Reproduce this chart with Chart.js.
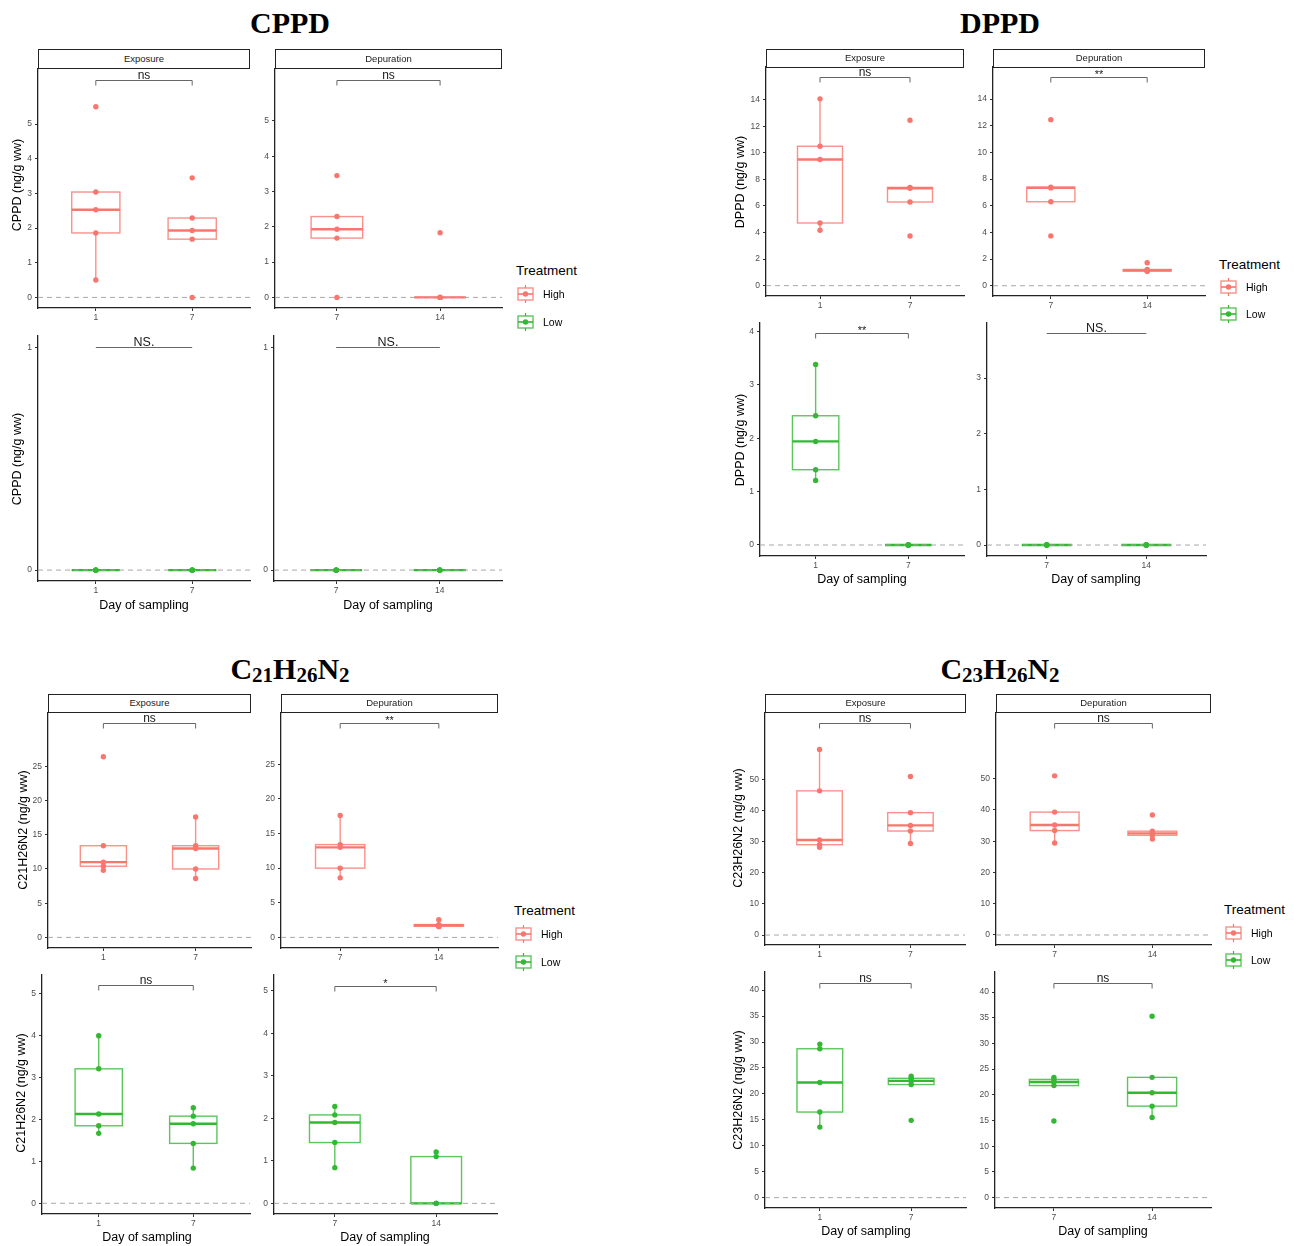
<!DOCTYPE html>
<html>
<head>
<meta charset="utf-8">
<script src="https://cdn.jsdelivr.net/npm/chart.js@4.4.1/dist/chart.umd.min.js"></script>
<style>
  body { margin: 0; background: #fff; width: 1294px; height: 1246px; position: relative; overflow: hidden;
         font-family: "Liberation Sans", Arial, sans-serif; }
  canvas { position: absolute; }
  .title { position: absolute; font-family: "Liberation Serif", "Times New Roman", serif; font-weight: bold;
           font-size: 30px; line-height: 30px; transform: translateX(-50%); white-space: nowrap; color: #000; }
  .title span { font-size: 21px; vertical-align: -3px; }
  .strip { position: absolute; box-sizing: border-box; border: 1.5px solid #222; background: #fff;
           font-size: 9.5px; color: #1a1a1a; text-align: center; z-index: 2; }
  .ytitle { position: absolute; font-size: 12.5px; white-space: nowrap; color: #000;
            transform: translate(-50%, -50%) rotate(-90deg); }
  .xtitle { position: absolute; font-size: 12.5px; white-space: nowrap; color: #000;
            transform: translate(-50%, -50%); }
  .legend { position: absolute; white-space: nowrap; transform: translateY(-50%); }
  .legend.head { font-size: 13.5px; }
  .legend.item { font-size: 10.5px; display: flex; align-items: center; }
  .legend svg { margin-right: 9px; }
</style>
</head>
<body>
<div class="title" style="left:290px;top:8px">CPPD</div>
<div class="title" style="left:1000px;top:8px">DPPD</div>
<div class="title" style="left:290px;top:654px">C<span>21</span>H<span>26</span>N<span>2</span></div>
<div class="title" style="left:1000px;top:654px">C<span>23</span>H<span>26</span>N<span>2</span></div>
<script>
// sampling days per phase
const exposureDays = ['1', '7'];
const depurationDays = ['7', '14'];

// CPPD (ng/g ww), five fish per day
const cppdHighDay1 = [5.5, 3.04, 2.53, 1.86, 0.5];
const cppdHighDay7 = [3.45, 2.29, 1.93, 1.68, 0];
const cppdHighDay14 = [1.83, 0, 0, 0, 0];
const cppdLowDay1 = [0, 0, 0, 0, 0];
const cppdLowDay7 = [0, 0, 0, 0, 0];
const cppdLowDay14 = [0, 0, 0, 0, 0];

// DPPD
const dppdHighDay1 = [14.07, 10.5, 9.5, 4.72, 4.17];
const dppdHighDay7 = [12.46, 7.4, 7.34, 6.3, 3.74];
const dppdHighDay14 = [1.73, 1.22, 1.15, 1.1, 1.08];
const dppdLowDay1 = [3.38, 2.42, 1.94, 1.41, 1.21];
const dppdLowDay7 = [0, 0, 0, 0, 0];
const dppdLowDay14 = [0, 0, 0, 0, 0];

// C21H26N2
const c21HighDay1 = [26.4, 13.4, 11.0, 10.4, 9.8];
const c21HighDay7 = [17.6, 13.4, 13.0, 10.0, 8.6];
const c21HighDay14 = [2.55, 1.85, 1.75, 1.6, 1.55];
const c21LowDay1 = [4.0, 3.21, 2.13, 1.85, 1.67];
const c21LowDay7 = [2.28, 2.08, 1.9, 1.43, 0.84];
const c21LowDay14 = [1.21, 1.1, 0, 0, 0];

// C23H26N2
const c23HighDay1 = [59.6, 46.3, 30.5, 29.0, 28.2];
const c23HighDay7 = [50.9, 39.3, 35.2, 33.4, 29.4];
const c23HighDay14 = [38.4, 33.2, 32.5, 31.9, 30.7];
const c23LowDay1 = [29.6, 28.7, 22.2, 16.5, 13.6];
const c23LowDay7 = [23.4, 23.0, 22.5, 21.8, 14.9];
const c23LowDay14 = [35.3, 23.4, 20.4, 17.8, 15.6];

// y tick labels
const cppdHighTicks = [0, 1, 2, 3, 4, 5];
const cppdLowTicks = [0, 1];
const dppdHighTicks = [0, 2, 4, 6, 8, 10, 12, 14];
const dppdLowExpTicks = [0, 1, 2, 3, 4];
const dppdLowDepTicks = [0, 1, 2, 3];
const c21HighTicks = [0, 5, 10, 15, 20, 25];
const c21LowTicks = [0, 1, 2, 3, 4, 5];
const c23HighTicks = [0, 10, 20, 30, 40, 50];
const c23LowTicks = [0, 5, 10, 15, 20, 25, 30, 35, 40];

// significance labels: high exposure, high depuration, low exposure, low depuration
const cppdSig = ['ns', 'ns', 'NS.', 'NS.'];
const dppdSig = ['ns', '**', '**', 'NS.'];
const c21Sig = ['ns', '**', 'ns', '*'];
const c23Sig = ['ns', 'ns', 'ns', 'ns'];

const HIGH = '#F8766D';
const LOW = '#33B833';

Chart.defaults.font.family = '"Liberation Sans", Arial, sans-serif';

function quantile(s, p) {
  const h = (s.length - 1) * p;
  const lo = Math.floor(h), hi = Math.ceil(h);
  return s[lo] + (h - lo) * (s[hi] - s[lo]);
}

function boxStats(values) {
  const s = [...values].sort((a, b) => a - b);
  const q1 = quantile(s, 0.25), med = quantile(s, 0.5), q3 = quantile(s, 0.75);
  const iqr = q3 - q1;
  const lo = s.find(v => v >= q1 - 1.5 * iqr);
  const hi = [...s].reverse().find(v => v <= q3 + 1.5 * iqr);
  return { q1, med, q3, lo, hi };
}

function fade(hex, a) {
  const n = parseInt(hex.slice(1), 16);
  return `rgba(${n >> 16},${(n >> 8) & 255},${n & 255},${a})`;
}

// boxes, whiskers, medians, zero line and the comparison bracket
function boxLayer(f) {
  return {
    id: 'boxLayer',
    beforeDatasetsDraw(chart) {
      const { ctx, chartArea, scales: { x, y } } = chart;
      ctx.save();
      f.groups.forEach((vals, i) => {
        const st = boxStats(vals);
        const cx = x.getPixelForValue(i + 1);
        const half = x.getPixelForValue(i + 1.25) - cx;
        const y1 = y.getPixelForValue(st.q1), y3 = y.getPixelForValue(st.q3);
        ctx.strokeStyle = fade(f.color, 0.8);
        ctx.lineWidth = 1.4;
        ctx.beginPath();
        ctx.moveTo(cx, y3); ctx.lineTo(cx, y.getPixelForValue(st.hi));
        ctx.moveTo(cx, y1); ctx.lineTo(cx, y.getPixelForValue(st.lo));
        ctx.stroke();
        ctx.fillStyle = '#fff';
        ctx.fillRect(cx - half, y3, 2 * half, y1 - y3);
        ctx.strokeRect(cx - half, y3, 2 * half, y1 - y3);
        ctx.strokeStyle = f.color;
        ctx.lineWidth = 2.4;
        ctx.beginPath();
        const ym = y.getPixelForValue(st.med);
        ctx.moveTo(cx - half, ym); ctx.lineTo(cx + half, ym);
        ctx.stroke();
      });
      const y0 = y.getPixelForValue(0);
      ctx.setLineDash([5, 4]);
      ctx.strokeStyle = '#a8a8a8';
      ctx.lineWidth = 1;
      ctx.beginPath();
      ctx.moveTo(chartArea.left, y0); ctx.lineTo(chartArea.right, y0);
      ctx.stroke();
      ctx.restore();
    },
    afterDraw(chart) {
      const { ctx, scales: { x, y } } = chart;
      const x1 = x.getPixelForValue(1), x2 = x.getPixelForValue(2);
      const yb = Math.round(y.getPixelForValue(f.bracketY)) + 0.5;
      const tips = f.label !== 'NS.';
      ctx.save();
      ctx.strokeStyle = '#666';
      ctx.lineWidth = 1;
      ctx.beginPath();
      if (tips) { ctx.moveTo(x1, yb + 5); ctx.lineTo(x1, yb); ctx.lineTo(x2, yb); ctx.lineTo(x2, yb + 5); }
      else { ctx.moveTo(x1, yb); ctx.lineTo(x2, yb); }
      ctx.stroke();
      ctx.fillStyle = '#1a1a1a';
      ctx.textAlign = 'center';
      ctx.textBaseline = 'alphabetic';
      const size = f.label === 'NS.' ? 12.5 : (f.label.startsWith('*') ? 11 : 12);
      ctx.font = `${size}px "Liberation Sans", Arial, sans-serif`;
      ctx.fillText(f.label, (x1 + x2) / 2, yb - (f.label.startsWith('*') ? 0 : 1.5));
      ctx.restore();
    }
  };
}

const PAD_TOP = 16, LEFT = 40, BOTTOM = 18, RIGHT = 4;

function drawFacet(f) {
  const cv = document.createElement('canvas');
  const w = Math.round(f.w) + LEFT + RIGHT, h = Math.round(f.h) + PAD_TOP + BOTTOM;
  cv.width = w; cv.height = h;
  cv.style.left = Math.round(f.x - LEFT) + 'px';
  cv.style.top = Math.round(f.y - PAD_TOP) + 'px';
  cv.style.width = w + 'px'; cv.style.height = h + 'px';
  document.body.appendChild(cv);

  const points = [];
  f.groups.forEach((vals, i) => vals.forEach(v => points.push({ x: i + 1, y: v })));

  const axisCommon = {
    grid: { drawOnChartArea: false, drawTicks: true, tickLength: 3, color: '#333', lineWidth: 1 },
    border: { display: true, color: '#222', width: 1.3 }
  };

  new Chart(cv, {
    type: 'scatter',
    data: {
      datasets: [{
        data: points,
        backgroundColor: f.color,
        borderColor: f.color,
        pointRadius: 2.7,
        pointBorderWidth: 0,
        pointHoverRadius: 2.7
      }]
    },
    options: {
      responsive: false,
      animation: false,
      events: [],
      layout: { padding: { top: PAD_TOP, right: RIGHT, left: 0, bottom: 0 } },
      plugins: { legend: { display: false }, tooltip: { enabled: false } },
      scales: {
        x: {
          type: 'linear', min: 0.4, max: 2.6,
          afterBuildTicks: s => { s.ticks = [{ value: 1 }, { value: 2 }]; },
          afterFit: s => { s.height = BOTTOM; },
          ticks: { callback: v => f.days[v - 1], font: { size: 8.5 }, color: '#4d4d4d', padding: 2,
                   maxRotation: 0, autoSkip: false },
          ...axisCommon
        },
        y: {
          min: f.yMin, max: f.yMax,
          afterBuildTicks: s => { s.ticks = f.ticks.map(v => ({ value: v })); },
          afterFit: s => { s.width = LEFT; },
          ticks: { font: { size: 8.5 }, color: '#4d4d4d', padding: 3, autoSkip: false },
          ...axisCommon
        }
      }
    },
    plugins: [boxLayer(f)]
  });
}

function addDiv(cls, text, left, top, extra) {
  const d = document.createElement('div');
  d.className = cls;
  d.textContent = text;
  d.style.left = left + 'px';
  d.style.top = top + 'px';
  if (extra) Object.assign(d.style, extra);
  document.body.appendChild(d);
  return d;
}

function strip(text, x, y, w, h) {
  addDiv('strip', text, x, y, { width: w + 'px', height: h + 'px', lineHeight: (h - 3) + 'px' });
}

function keySvg(color) {
  return `<svg width="17" height="18" viewBox="0 0 17 18">
    <line x1="8.5" y1="0" x2="8.5" y2="18" stroke="${color}" stroke-width="1.2"/>
    <rect x="1" y="3" width="15" height="12" fill="#fff" stroke="${fade(color, 0.8)}" stroke-width="1.4"/>
    <line x1="1" y1="9" x2="16" y2="9" stroke="${color}" stroke-width="1.6"/>
    <circle cx="8.5" cy="9" r="2.7" fill="${color}"/></svg>`;
}

function legend(x, yHead, yHigh, yLow) {
  addDiv('legend head', 'Treatment', x, yHead);
  const hi = addDiv('legend item', '', x + 1, yHigh);
  hi.innerHTML = keySvg(HIGH) + 'High';
  const lo = addDiv('legend item', '', x + 1, yLow);
  lo.innerHTML = keySvg(LOW) + 'Low';
}

// ---------- CPPD ----------
strip('Exposure', 38, 49, 212, 20);
strip('Depuration', 275, 49, 227, 20);
drawFacet({ x: 38, y: 69, w: 212, h: 239, yMin: -0.306, yMax: 6.59, ticks: cppdHighTicks,
  groups: [cppdHighDay1, cppdHighDay7], days: exposureDays, color: HIGH, bracketY: 6.28, label: cppdSig[0] });
drawFacet({ x: 275, y: 69, w: 227, h: 239, yMin: -0.30, yMax: 6.47, ticks: cppdHighTicks,
  groups: [cppdHighDay7, cppdHighDay14], days: depurationDays, color: HIGH, bracketY: 6.17, label: cppdSig[1] });
drawFacet({ x: 38, y: 336, w: 212, h: 245, yMin: -0.049, yMax: 1.051, ticks: cppdLowTicks,
  groups: [cppdLowDay1, cppdLowDay7], days: exposureDays, color: LOW, bracketY: 1, label: cppdSig[2] });
drawFacet({ x: 274, y: 336, w: 228, h: 245, yMin: -0.049, yMax: 1.051, ticks: cppdLowTicks,
  groups: [cppdLowDay7, cppdLowDay14], days: depurationDays, color: LOW, bracketY: 1, label: cppdSig[3] });
addDiv('ytitle', 'CPPD (ng/g ww)', 17, 185);
addDiv('ytitle', 'CPPD (ng/g ww)', 17, 459);
addDiv('xtitle', 'Day of sampling', 144, 605);
addDiv('xtitle', 'Day of sampling', 388, 605);
legend(516, 270, 294, 322);

// ---------- DPPD ----------
strip('Exposure', 766, 49, 198, 19);
strip('Depuration', 993, 49, 212, 19);
drawFacet({ x: 766, y: 67.3, w: 198, h: 228.7, yMin: -0.78, yMax: 16.47, ticks: dppdHighTicks,
  groups: [dppdHighDay1, dppdHighDay7], days: exposureDays, color: HIGH, bracketY: 15.69, label: dppdSig[0] });
drawFacet({ x: 993, y: 67.3, w: 212, h: 228.7, yMin: -0.77, yMax: 16.41, ticks: dppdHighTicks,
  groups: [dppdHighDay7, dppdHighDay14], days: depurationDays, color: HIGH, bracketY: 15.63, label: dppdSig[1] });
drawFacet({ x: 760, y: 323.3, w: 204, h: 233.4, yMin: -0.206, yMax: 4.157, ticks: dppdLowExpTicks,
  groups: [dppdLowDay1, dppdLowDay7], days: exposureDays, color: LOW, bracketY: 3.97, label: dppdSig[2] });
drawFacet({ x: 986.5, y: 323.3, w: 219, h: 233.4, yMin: -0.197, yMax: 3.99, ticks: dppdLowDepTicks,
  groups: [dppdLowDay7, dppdLowDay14], days: depurationDays, color: LOW, bracketY: 3.81, label: dppdSig[3] });
addDiv('ytitle', 'DPPD (ng/g ww)', 740, 182);
addDiv('ytitle', 'DPPD (ng/g ww)', 740, 440);
addDiv('xtitle', 'Day of sampling', 862, 579);
addDiv('xtitle', 'Day of sampling', 1096, 579);
legend(1219, 264, 287, 314);

// ---------- C21H26N2 ----------
strip('Exposure', 48, 694, 203, 19);
strip('Depuration', 281, 694, 217, 19);
drawFacet({ x: 48.3, y: 712.7, w: 202.7, h: 234.6, yMin: -1.55, yMax: 32.8, ticks: c21HighTicks,
  groups: [c21HighDay1, c21HighDay7], days: exposureDays, color: HIGH, bracketY: 31.3, label: c21Sig[0] });
drawFacet({ x: 281, y: 712.7, w: 217, h: 234.6, yMin: -1.53, yMax: 32.4, ticks: c21HighTicks,
  groups: [c21HighDay7, c21HighDay14], days: depurationDays, color: HIGH, bracketY: 30.97, label: c21Sig[1] });
drawFacet({ x: 42.3, y: 975, w: 207.7, h: 239, yMin: -0.256, yMax: 5.45, ticks: c21LowTicks,
  groups: [c21LowDay1, c21LowDay7], days: exposureDays, color: LOW, bracketY: 5.2, label: c21Sig[2] });
drawFacet({ x: 274, y: 975, w: 222.7, h: 239, yMin: -0.25, yMax: 5.37, ticks: c21LowTicks,
  groups: [c21LowDay7, c21LowDay14], days: depurationDays, color: LOW, bracketY: 5.12, label: c21Sig[3] });
addDiv('ytitle', 'C21H26N2 (ng/g ww)', 23, 830);
addDiv('ytitle', 'C21H26N2 (ng/g ww)', 21, 1093);
addDiv('xtitle', 'Day of sampling', 147, 1237);
addDiv('xtitle', 'Day of sampling', 385, 1237);
legend(514, 910, 934, 962);

// ---------- C23H26N2 ----------
strip('Exposure', 765, 694, 201, 19);
strip('Depuration', 996, 694, 215, 19);
drawFacet({ x: 765.2, y: 712.7, w: 200.4, h: 231.6, yMin: -3.2, yMax: 71.3, ticks: c23HighTicks,
  groups: [c23HighDay1, c23HighDay7], days: exposureDays, color: HIGH, bracketY: 68.1, label: c23Sig[0] });
drawFacet({ x: 995.7, y: 712.7, w: 215, h: 231.6, yMin: -3.2, yMax: 71.0, ticks: c23HighTicks,
  groups: [c23HighDay7, c23HighDay14], days: depurationDays, color: HIGH, bracketY: 67.8, label: c23Sig[1] });
drawFacet({ x: 764.9, y: 971.7, w: 200.7, h: 236, yMin: -2.0, yMax: 43.5, ticks: c23LowTicks,
  groups: [c23LowDay1, c23LowDay7], days: exposureDays, color: LOW, bracketY: 41.4, label: c23Sig[2] });
drawFacet({ x: 995, y: 971.7, w: 215.8, h: 236, yMin: -2.02, yMax: 43.9, ticks: c23LowTicks,
  groups: [c23LowDay7, c23LowDay14], days: depurationDays, color: LOW, bracketY: 41.75, label: c23Sig[3] });
addDiv('ytitle', 'C23H26N2 (ng/g ww)', 738, 828);
addDiv('ytitle', 'C23H26N2 (ng/g ww)', 738, 1090);
addDiv('xtitle', 'Day of sampling', 866, 1231);
addDiv('xtitle', 'Day of sampling', 1103, 1231);
legend(1224, 909, 933, 960);
</script>
</body>
</html>
